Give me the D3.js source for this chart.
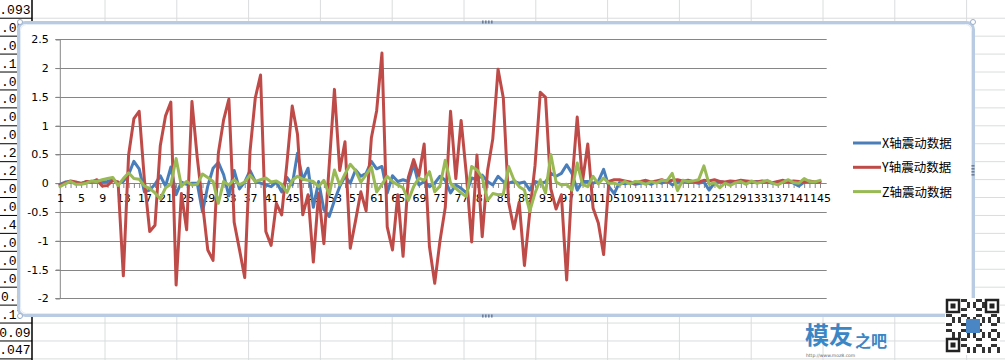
<!DOCTYPE html>
<html><head><meta charset="utf-8">
<script src="https://cdn.jsdelivr.net/npm/d3@7"></script>
<style>body{margin:0;background:#fff}svg{display:block}</style>
</head><body>
<svg id="c" width="1005" height="360"></svg>
<script>
// ---------------- data ----------------
const categories = d3.range(1, 146);            // 1 .. 145
const seriesNames = ["X轴震动数据", "Y轴震动数据", "Z轴震动数据"];
const xValues = [
 -0.02,0.02,0.03,0.01,0.00,0.02,0.03,0.04,0.02,0.03,
 0.06,0.00,0.03,0.15,0.38,0.25,-0.15,-0.12,-0.02,0.13,
 -0.05,0.28,-0.20,0.02,-0.02,0.00,0.00,-0.50,-0.05,0.26,
 0.36,0.15,-0.22,0.22,-0.10,0.02,0.22,0.03,0.00,-0.03,
 -0.06,0.02,-0.15,0.10,-0.03,0.52,0.06,0.26,-0.42,0.03,
 -0.46,-0.58,-0.30,-0.06,0.12,0.00,0.23,0.12,0.17,0.38,
 0.25,0.29,-0.17,0.13,0.03,0.06,0.03,0.33,-0.03,0.03,
 -0.06,0.00,0.12,0.05,-0.17,-0.03,-0.09,-0.17,0.09,0.06,
 0.14,0.03,-0.03,0.12,0.03,0.00,0.03,0.00,0.02,-0.12,
 0.03,0.00,0.02,0.17,0.12,0.17,0.32,0.17,-0.12,0.03,
 0.03,0.00,0.03,0.24,-0.06,-0.18,0.01,-0.01,0.01,-0.02,
 0.00,0.02,-0.02,0.03,0.00,0.05,-0.03,0.02,0.04,0.01,
 0.02,0.00,0.02,-0.12,0.00,0.03,0.01,0.00,0.02,0.03,
 0.02,0.01,0.03,0.01,0.02,0.00,0.02,0.01,0.03,0.00,
 -0.05,0.02,0.03,0.01,0.02
];
const yValues = [
 -0.03,0.00,0.04,0.02,-0.01,0.03,0.02,0.06,-0.05,-0.04,
 0.05,0.02,-1.61,0.49,1.12,1.25,0.05,-0.84,-0.73,0.65,
 1.17,1.41,-1.77,-0.18,-0.81,1.42,0.45,-0.35,-1.16,-1.34,
 0.52,1.10,1.46,-0.68,-1.15,-1.64,0.55,1.48,1.88,-0.84,
 -1.08,-0.35,-0.55,0.35,1.34,0.85,-0.55,-0.20,-1.37,-0.17,
 -1.05,0.30,1.63,0.22,0.72,-1.13,-0.65,-0.15,-0.48,0.79,
 1.26,2.26,-0.76,-1.16,-0.20,-1.27,0.10,0.41,0.13,0.68,
 -1.10,-1.74,-1.00,-0.42,1.25,0.08,1.09,0.15,-1.02,0.49,
 -0.93,0.21,0.77,1.98,1.48,-0.33,-0.79,-0.33,-1.43,-0.51,
 0.30,1.58,1.49,-0.10,-0.45,-0.20,-1.68,0.00,1.15,0.03,
 0.68,-0.43,-0.69,-1.24,0.03,0.06,0.06,0.04,0.02,0.00,
 0.03,0.05,0.02,0.04,0.06,0.03,0.05,0.06,0.04,0.05,
 0.03,0.02,0.05,0.04,0.06,0.03,0.02,0.04,0.03,0.05,
 0.04,0.03,0.02,0.04,0.03,0.01,0.03,0.05,0.02,0.04,
 0.03,0.02,0.04,0.02,0.03
];
const zValues = [
 -0.06,-0.01,0.03,-0.02,-0.02,0.00,0.04,0.03,0.06,0.08,
 0.10,-0.04,0.08,0.18,0.08,0.07,-0.05,-0.09,-0.17,-0.27,
 -0.08,-0.02,0.43,-0.05,0.03,-0.03,-0.02,0.16,0.10,0.03,
 -0.35,0.03,-0.03,0.06,-0.03,0.02,0.14,0.03,0.06,0.09,
 0.02,0.04,-0.02,-0.16,0.05,0.12,0.07,0.05,0.03,-0.06,
 0.05,-0.20,0.23,-0.03,0.16,0.33,0.22,0.02,0.15,0.28,
 -0.15,-0.02,0.12,0.03,-0.03,-0.08,-0.30,-0.06,0.09,0.05,
 0.20,-0.15,-0.05,0.40,0.00,-0.09,-0.17,-0.23,0.29,0.23,
 0.10,-0.30,-0.18,-0.20,-0.19,0.29,0.06,-0.06,-0.12,-0.49,
 -0.17,0.06,-0.17,0.50,0.02,-0.03,-0.02,-0.12,0.35,-0.02,
 -0.06,0.12,-0.01,0.09,0.00,0.00,-0.03,0.03,-0.01,0.03,
 0.02,-0.02,0.03,0.00,0.05,0.04,0.17,-0.13,0.05,0.03,
 0.04,0.06,0.30,-0.02,0.01,-0.08,0.00,-0.04,0.01,0.03,
 -0.02,0.04,0.00,0.02,0.05,0.00,-0.03,0.02,0.06,0.01,
 0.00,0.08,0.03,0.02,0.05
];
const yTicks = [2.5, 2, 1.5, 1, 0.5, 0, -0.5, -1, -1.5, -2];
const xTickLabels = categories.filter((d, i) => i % 4 === 0);
const colors = ["#4a7ebb", "#be4b48", "#98b954"];
// visible parts of the worksheet column behind the chart
const sheetValues = [".093",".05",".05",".18",".06",".09",".08",".07",".24",".23",
                     ".08",".04",".44",".08",".02",".05","0.0",".17","0.09",".047"];

// ---------------- drawing ----------------
const svg = d3.select("#c");

// spreadsheet background
const sheet = svg.append("g");
const rowH = 17.93;
for (let k = 1; k <= 20; k++) {
  sheet.append("line").attr("x1", 32).attr("x2", 1005)
    .attr("y1", 0.3 + k * rowH).attr("y2", 0.3 + k * rowH)
    .attr("stroke", "#dadcdd").attr("stroke-width", 1);
}
for (let c = 0; c < 14; c++) {
  const x = 105 + c * 71.8;
  sheet.append("line").attr("x1", x).attr("x2", x).attr("y1", 0).attr("y2", 360)
    .attr("stroke", "#dadcdd").attr("stroke-width", 1);
}
// column A with black cell borders
for (let k = 1; k <= 20; k++) {
  sheet.append("line").attr("x1", 0).attr("x2", 32)
    .attr("y1", 0.3 + k * rowH).attr("y2", 0.3 + k * rowH)
    .attr("stroke", "#000").attr("stroke-width", 1);
}
sheet.append("line").attr("x1", 32).attr("x2", 32).attr("y1", 0).attr("y2", 360)
  .attr("stroke", "#000").attr("stroke-width", 1.5);
sheet.selectAll("text.cell").data(sheetValues).join("text")
  .attr("x", (d, i) => (i === 0 || i >= 18) ? 30.5 : 1)
  .attr("y", (d, i) => 0.3 + i * rowH + 13.5)
  .attr("text-anchor", (d, i) => (i === 0 || i >= 18) ? "end" : "start")
  .attr("font-family", "Liberation Mono, DejaVu Sans Mono, monospace")
  .attr("font-size", 13).attr("fill", "#000").text(d => d);

// chart frame
const frame = svg.append("g");
frame.append("rect").attr("x", 18.5).attr("y", 22.5).attr("width", 955).attr("height", 293)
  .attr("rx", 7).attr("fill", "#fff").attr("stroke", "#b8cbe2").attr("stroke-width", 3);
frame.append("rect").attr("x", 20.5).attr("y", 24.5).attr("width", 951).attr("height", 289)
  .attr("rx", 6).attr("fill", "#fff").attr("stroke", "#e4ecf5").attr("stroke-width", 1);
// handles
[[487, 22], [487, 316]].forEach(([hx, hy]) => {
  for (let j = 0; j < 4; j++) frame.append("rect").attr("x", hx - 5 + j * 3).attr("y", hy - 1.5)
    .attr("width", 1.6).attr("height", 3).attr("fill", "#6f7f95");
});
[[973, 170]].forEach(([hx, hy]) => {
  for (let j = 0; j < 4; j++) frame.append("rect").attr("x", hx - 1.5).attr("y", hy - 5 + j * 3)
    .attr("width", 3).attr("height", 1.6).attr("fill", "#6f7f95");
});
[[973, 22], [20, 316], [973, 316], [20, 22]].forEach(([hx, hy]) => {
  frame.append("circle").attr("cx", hx).attr("cy", hy).attr("r", 2.5)
    .attr("fill", "#fff").attr("stroke", "#9aaec8").attr("stroke-width", 1);
});

// plot area
const plotL = 59.3, plotR = 826.7;
const x = d3.scalePoint().domain(categories).range([60, 820]);
const y = d3.scaleLinear().domain([-2, 2.5]).range([298.3, 39.3]);
const g = svg.append("g");

// gridlines
g.selectAll("line.grid").data(yTicks).join("line")
  .attr("x1", plotL - 4).attr("x2", plotR)
  .attr("y1", d => Math.round(y(d)) + 0.5).attr("y2", d => Math.round(y(d)) + 0.5)
  .attr("stroke", "#868686").attr("stroke-width", 1);

// y axis
const yAxis = d3.axisLeft(y).tickValues(yTicks).tickSize(4).tickPadding(8)
  .tickFormat(d => String(d));
const ya = g.append("g").attr("transform", `translate(${plotL + 0.5},0)`).call(yAxis);
ya.select(".domain").attr("stroke", "#868686");
ya.selectAll(".tick line").attr("stroke", "#868686");
ya.selectAll(".tick text").attr("font-family", "DejaVu Sans, sans-serif").attr("font-size", 11)
  .attr("fill", "#000").attr("x", -11);

// x axis at zero
const xAxis = d3.axisBottom(x).tickValues(xTickLabels).tickSize(0).tickPadding(11);
const xa = g.append("g").attr("transform", `translate(0,${Math.round(y(0)) + 0.5})`).call(xAxis);
xa.select(".domain").remove();
xa.selectAll(".tick text").attr("font-family", "DejaVu Sans, sans-serif").attr("font-size", 11)
  .attr("fill", "#000");
// category tick marks
g.selectAll("line.ctick").data(categories).join("line")
  .attr("x1", d => x(d) + 0.5).attr("x2", d => x(d) + 0.5)
  .attr("y1", Math.round(y(0))).attr("y2", Math.round(y(0)) + 5)
  .attr("stroke", "#868686").attr("stroke-width", 1);

// series
const allSeries = [xValues, yValues, zValues];
const line = d3.line().x((d, i) => x(categories[i])).y(d => y(d));
g.selectAll("path.series").data(allSeries).join("path")
  .attr("fill", "none").attr("stroke", (d, i) => colors[i]).attr("stroke-width", 3)
  .attr("stroke-linejoin", "round").attr("stroke-linecap", "round")
  .attr("d", d => line(d));

// legend
const lg = svg.append("g");
seriesNames.forEach((name, i) => {
  const ly = 143 + i * 24.3;
  lg.append("line").attr("x1", 853).attr("x2", 881).attr("y1", ly).attr("y2", ly)
    .attr("stroke", colors[i]).attr("stroke-width", 3);
  lg.append("text").attr("x", 882).attr("y", ly + 5).attr("font-family", "Noto Sans CJK SC, sans-serif")
    .attr("font-size", 12.5).attr("fill", "#000").text(name);
});

// watermark
const wm = svg.append("g");
wm.append("text").attr("x", 805).attr("y", 344).attr("font-family", "Noto Sans CJK SC, sans-serif")
  .attr("font-size", 24).attr("font-weight", "bold").attr("fill", "#3b86c4").text("模友");
wm.append("text").attr("x", 855).attr("y", 347).attr("font-family", "Noto Sans CJK SC, sans-serif")
  .attr("font-size", 16).attr("font-weight", "bold").attr("fill", "#3b86c4").text("之吧");
wm.append("text").attr("x", 806).attr("y", 357).attr("font-family", "DejaVu Sans, sans-serif")
  .attr("font-size", 4.5).attr("fill", "#666").text("http://www.moz8.com");
// QR-like mark
const qr = wm.append("g").attr("transform", "translate(945,298)");
qr.append("rect").attr("width", 55).attr("height", 57).attr("fill", "#fff");
for (let r = 0; r < 18; r++) for (let c = 0; c < 18; c++) {
  if ((r < 5 && c < 5) || (r < 5 && c > 12) || (r > 12 && c < 5)) continue;
  if (((r * 7 + c * 11 + r * c) % 5) < 2)
    qr.append("rect").attr("x", 1 + c * 3).attr("y", 1 + r * 3).attr("width", 3).attr("height", 3).attr("fill", "#333");
}
[[1,1],[40,1],[1,40]].forEach(([a,b]) => {
  qr.append("rect").attr("x", a + 1).attr("y", b + 1).attr("width", 12).attr("height", 12).attr("fill", "#fff").attr("stroke", "#222").attr("stroke-width", 2.5);
  qr.append("rect").attr("x", a + 4.5).attr("y", b + 4.5).attr("width", 5).attr("height", 5).attr("fill", "#222");
});
qr.append("rect").attr("x", 21).attr("y", 21).attr("width", 14).attr("height", 14).attr("fill", "#4b86c4");
</script>
</body></html>
